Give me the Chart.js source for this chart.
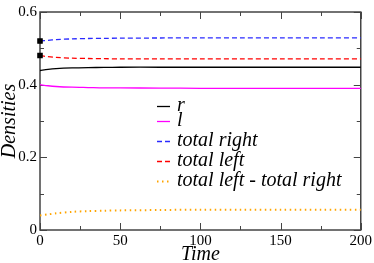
<!DOCTYPE html>
<html><head><meta charset="utf-8">
<script src="https://cdn.jsdelivr.net/npm/chart.js@4/dist/chart.umd.min.js"></script>
<style>html,body{margin:0;padding:0;background:#fff}#wrap{width:374px;height:263px}</style>
</head><body><div id="wrap"><canvas id="c" width="374" height="263"></canvas></div>
<script>
const times = [0, 5, 10, 20, 30, 40, 50, 75, 100, 125, 150, 175, 200];
const rVals = [0.439, 0.442, 0.444, 0.446, 0.447, 0.4475, 0.448, 0.448, 0.448, 0.448, 0.448, 0.448, 0.448];
const lVals = [0.400, 0.397, 0.395, 0.393, 0.392, 0.391, 0.391, 0.3905, 0.390, 0.390, 0.390, 0.390, 0.390];
const totalRight = [0.520, 0.522, 0.524, 0.526, 0.527, 0.5275, 0.528, 0.5285, 0.529, 0.529, 0.529, 0.529, 0.529];
const totalLeft = [0.480, 0.477, 0.475, 0.473, 0.472, 0.4715, 0.471, 0.471, 0.471, 0.471, 0.471, 0.471, 0.471];
const diffVals = [0.040, 0.043, 0.046, 0.050, 0.052, 0.053, 0.054, 0.055, 0.056, 0.056, 0.056, 0.056, 0.056];
const seriesLabels = ['r', 'l', 'total right', 'total left', 'total left - total right'];
const xTicks = [0, 50, 100, 150, 200];
const yTicks = [0, 0.2, 0.4, 0.6];

const pts = a => a.map((v, i) => ({x: times[i], y: v}));
const firstMarker = times.map((t, i) => i === 0 ? 3 : 0);

const colors = ['#000000', '#ff00ff', '#2a2aff', '#ff0000', '#ffa500'];
const dashes = [[], [], [5, 3], [5, 3], [1.5, 3.5]];
const datasets = [rVals, lVals, totalRight, totalLeft, diffVals].map((a, k) => ({
  label: seriesLabels[k], data: pts(a), borderColor: colors[k], borderWidth: k === 4 ? 2 : 1.3,
  borderDash: dashes[k], pointRadius: (k === 2 || k === 3) ? firstMarker : 0,
  pointStyle: 'rect', pointBackgroundColor: '#000', pointBorderColor: '#000', tension: 0.3, clip: false
}));

const SERIF = '"Liberation Serif", "Times New Roman", serif';

const frame = {
  id: 'frame',
  beforeDatasetsDraw(chart) {
    const ctx = chart.ctx, a = chart.chartArea, xs = chart.scales.x, ys = chart.scales.y;
    ctx.save();
    ctx.setLineDash([]);
    ctx.strokeStyle = '#444'; ctx.lineWidth = 1.5;
    ctx.strokeRect(a.left, a.top, a.right - a.left, a.bottom - a.top);
    ctx.lineWidth = 1;
    for (let v = 0; v <= 200; v += 25) {
      const x = Math.round(xs.getPixelForValue(v)) + 0.5, L = v % 50 === 0 ? 7 : 4;
      ctx.beginPath(); ctx.moveTo(x, a.bottom); ctx.lineTo(x, a.bottom - L);
      ctx.moveTo(x, a.top); ctx.lineTo(x, a.top + L); ctx.stroke();
    }
    for (let i = 0; i <= 6; i++) {
      const v = i / 10, y = Math.round(ys.getPixelForValue(v)) + 0.5, L = i % 2 === 0 ? 7 : 4;
      ctx.beginPath(); ctx.moveTo(a.left, y); ctx.lineTo(a.left + L, y);
      ctx.moveTo(a.right, y); ctx.lineTo(a.right - L, y); ctx.stroke();
    }
    ctx.restore();
  },
  afterDraw(chart) {
    const ctx = chart.ctx;
    ctx.save();
    const rows = [106, 121, 141, 161, 181];
    ctx.font = 'italic 20px ' + SERIF;
    ctx.textBaseline = 'middle'; ctx.fillStyle = '#000';
    chart.data.datasets.forEach((d, k) => {
      const y = rows[k] + 0.5;
      ctx.strokeStyle = d.borderColor; ctx.lineWidth = k === 4 ? 2 : 1.3;
      ctx.setLineDash(d.borderDash);
      ctx.beginPath(); ctx.moveTo(157, y); ctx.lineTo(170, y); ctx.stroke();
      ctx.setLineDash([]);
      ctx.fillText(d.label, 177, rows[k]);
    });
    ctx.restore();
  }
};

new Chart(document.getElementById('c'), {
  type: 'line',
  data: {datasets},
  options: {
    responsive: false, animation: false,
    layout: {padding: {top: 6, right: 12, left: 0, bottom: 0}},
    plugins: {legend: {display: false}, tooltip: {enabled: false}},
    scales: {
      x: {
        type: 'linear', min: 0, max: 200,
        afterBuildTicks: s => { s.ticks = xTicks.map(v => ({value: v})); },
        afterFit: s => { s.height = 33; },
        grid: {display: false, drawTicks: false, tickLength: 0}, border: {display: false},
        ticks: {color: '#000', padding: 2, maxRotation: 0, font: {family: SERIF, size: 15}},
        title: {display: true, text: 'Time', color: '#000', padding: {top: -2, bottom: -2}, font: {family: SERIF, size: 20, style: 'italic', lineHeight: 1.0}}
      },
      y: {
        type: 'linear', min: 0, max: 0.6,
        afterBuildTicks: s => { s.ticks = yTicks.map(v => ({value: v})); },
        afterFit: s => { s.width = 40; },
        grid: {display: false, drawTicks: false, tickLength: 0}, border: {display: false},
        ticks: {color: '#000', padding: 3, font: {family: SERIF, size: 15},
          callback: v => v === 0 ? '0' : v.toFixed(1)},
        title: {display: true, text: 'Densities', color: '#000', padding: 0, font: {family: SERIF, size: 20, style: 'italic', lineHeight: 1.0}}
      }
    }
  },
  plugins: [frame]
});
</script></body></html>
